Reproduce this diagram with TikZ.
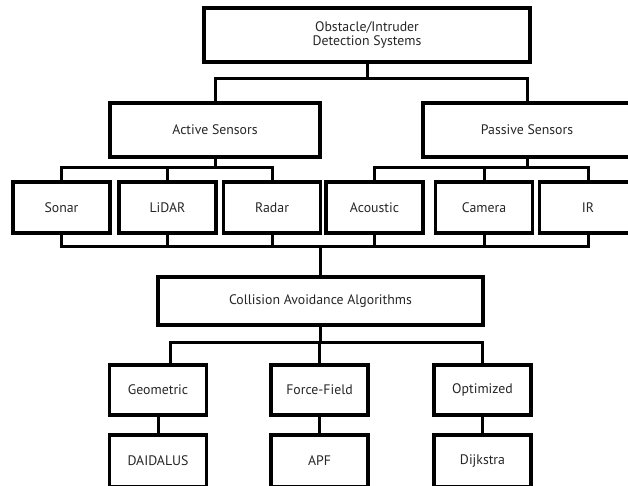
\documentclass[tikz,border=0pt]{standalone}
\usepackage{fontspec}
\setmainfont{PT Sans}
\usepackage{tikz}
\usetikzlibrary{calc,positioning}
\tikzset{
  catbox/.style = {draw, line width=3.4pt, rectangle, inner sep=0pt,
                   align=center, text=black!85},
  sensbox/.style = {catbox, minimum width=97, minimum height=51},
  algbox/.style  = {catbox, minimum width=97, minimum height=50},
  link/.style    = {line width=3pt},
}

\begin{document}
\begin{tikzpicture}[x=1pt,y=-1pt,font=\fontsize{13.8}{14.5}\selectfont]
\useasboundingbox (0,0) rectangle (628,485);
% detection systems
\node[catbox,minimum width=326,minimum height=54] (top) at (367,35)
  {Obstacle/Intruder\\Detection Systems};
\node[catbox,minimum width=210,minimum height=54] (active) at (215,130) {Active Sensors};
\node[catbox,minimum width=208,minimum height=54] (passive) at (527,130) {Passive Sensors};
\node[sensbox] (sonar)    at (61.5,207.5) {Sonar};
\node[sensbox] (lidar)    at (167.5,207.5) {LiDAR};
\node[sensbox] (radar)    at (272,207.5) {Radar};
\node[sensbox] (acoustic) at (374.5,207.5) {Acoustic};
\node[sensbox] (camera)   at (484,207.5) {Camera};
\node[sensbox] (ir)       at (588,207.5) {IR};
% avoidance algorithms
\node[catbox,minimum width=325,minimum height=48] (cas) at (320.5,301)
  {Collision Avoidance Algorithms};
\node[algbox] (geo) at (158,390) {Geometric};
\node[algbox] (ff)  at (319.5,390) {Force-Field};
\node[algbox] (opt) at (482.5,390) {Optimized};
\node[algbox,minimum height=52] (daid) at (158,461) {DAIDALUS};
\node[algbox,minimum height=52] (apf)  at (319.5,461) {APF};
\node[algbox,minimum height=52] (dijk) at (482.5,461) {Dijkstra};

% tree links
\draw[link] (top.south) -- ++(0,15) coordinate (b1);
\draw[link] (active.north) |- (b1) -| (passive.north);
\draw[link] (active.south) -- ++(0,9) coordinate (b2);
\draw[link] (sonar.north) |- (b2) -| (radar.north);
\draw[link] (lidar.north) -- (lidar.north |- b2);
\draw[link] (passive.south) -- ++(0,9) coordinate (b3);
\draw[link] (acoustic.north) |- (b3) -| (ir.north);
\draw[link] (camera.north) -- (camera.north |- b3);
% sensors into the algorithms
\draw[link] (cas.north) -- ++(0,-29) coordinate (b4);
\draw[link] (sonar.south) |- (b4) -| (ir.south);
\foreach \s in {lidar,radar,acoustic,camera}
  \draw[link] (\s.south) -- (\s.south |- b4);
\draw[link] (cas.south) -- ++(0,16) coordinate (b5);
\draw[link] ($(geo.north)+(12,0)$) |- (b5) -| (opt.north);
\draw[link] (ff.north) -- (ff.north |- b5);
\draw[link] (geo.south) -- (daid.north);
\draw[link] (ff.south) -- (apf.north);
\draw[link] (opt.south) -- (dijk.north);
\end{tikzpicture}
\end{document}
